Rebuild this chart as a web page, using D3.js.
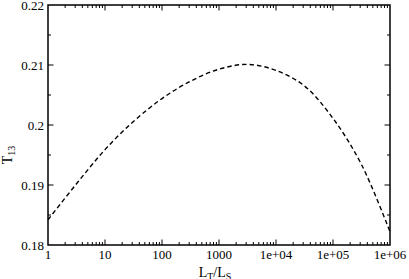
<!DOCTYPE html>
<html><head><meta charset="utf-8">
<script src="https://cdn.jsdelivr.net/npm/d3@7"></script>
<style>body{margin:0;background:#fff}svg{display:block}text{font-family:"Liberation Serif","Times New Roman",serif;fill:#000}</style>
</head><body><svg id="c" width="409" height="279"></svg>
<script>
const ratio = [1, 3.162, 10, 31.62, 100, 316.2, 1000, 3162, 10000, 31623, 100000, 316228, 1000000];
const t13 = [0.1842, 0.1902, 0.1959, 0.2006, 0.2044, 0.2073, 0.2093, 0.2101, 0.2091, 0.2065, 0.2011, 0.1934, 0.1822];
const xTicks = [1, 10, 100, 1000, 10000, 100000, 1000000];
const xTickLabels = ["1", "10", "100", "1000", "1e+04", "1e+05", "1e+06"];
const yTicks = [0.18, 0.19, 0.2, 0.21, 0.22];
const yTickLabels = ["0.18", "0.19", "0.2", "0.21", "0.22"];

const L = 48, R = 390, T = 5, B = 245;
const svg = d3.select("#c");
const x = d3.scaleLog().domain([1, 1e6]).range([L, R]);
const y = d3.scaleLinear().domain([0.18, 0.22]).range([B, T]);

const minorX = [];
for (let e = 0; e < 6; e++) for (let k = 2; k <= 9; k++) minorX.push(k * Math.pow(10, e));
const minorY = [0.185, 0.195, 0.205, 0.215];

const g = svg.append("g");
g.append("rect").attr("x", L).attr("y", T).attr("width", R - L).attr("height", B - T)
  .attr("fill", "none").attr("stroke", "#000").attr("stroke-width", 1.5);

function ticksX(vals, len) {
  vals.forEach(v => {
    const xx = x(v);
    g.append("line").attr("x1", xx).attr("x2", xx).attr("y1", B).attr("y2", B - len).attr("stroke", "#000").attr("stroke-width", 1);
    g.append("line").attr("x1", xx).attr("x2", xx).attr("y1", T).attr("y2", T + len).attr("stroke", "#000").attr("stroke-width", 1);
  });
}
function ticksY(vals, len) {
  vals.forEach(v => {
    const yy = y(v);
    g.append("line").attr("y1", yy).attr("y2", yy).attr("x1", L).attr("x2", L + len).attr("stroke", "#000").attr("stroke-width", 1);
    g.append("line").attr("y1", yy).attr("y2", yy).attr("x1", R).attr("x2", R - len).attr("stroke", "#000").attr("stroke-width", 1);
  });
}
ticksX(xTicks.slice(1, -1), 5.5);
ticksX(minorX, 3);
ticksY(yTicks.slice(1, -1), 5.5);
ticksY(minorY, 3);

xTicks.forEach((v, i) => {
  g.append("text").attr("x", x(v)).attr("y", 259).attr("text-anchor", "middle")
    .attr("font-size", 13).text(xTickLabels[i]);
});
yTicks.forEach((v, i) => {
  g.append("text").attr("x", 44).attr("y", y(v) + 4.5).attr("text-anchor", "end")
    .attr("font-size", 13).text(yTickLabels[i]);
});

const xt = g.append("text").attr("x", 215).attr("y", 277).attr("text-anchor", "middle").attr("font-size", 14);
xt.append("tspan").text("L");
xt.append("tspan").attr("font-size", 10).attr("dy", 2.5).text("T");
xt.append("tspan").attr("dy", -2.5).text("/L");
xt.append("tspan").attr("font-size", 10).attr("dy", 2.5).text("S");

const yt = g.append("text").attr("transform", "translate(12,155) rotate(-90)").attr("text-anchor", "middle").attr("font-size", 14);
yt.append("tspan").text("T");
yt.append("tspan").attr("font-size", 10).attr("dy", 2.5).text("13");

const data = ratio.map((r, i) => [r, t13[i]]);
const line = d3.line().x(d => x(d[0])).y(d => y(d[1])).curve(d3.curveCatmullRom);
g.append("path").datum(data).attr("d", line).attr("fill", "none").attr("stroke", "#000")
  .attr("stroke-width", 1.4).attr("stroke-dasharray", "4.5,3");
</script></body></html>
